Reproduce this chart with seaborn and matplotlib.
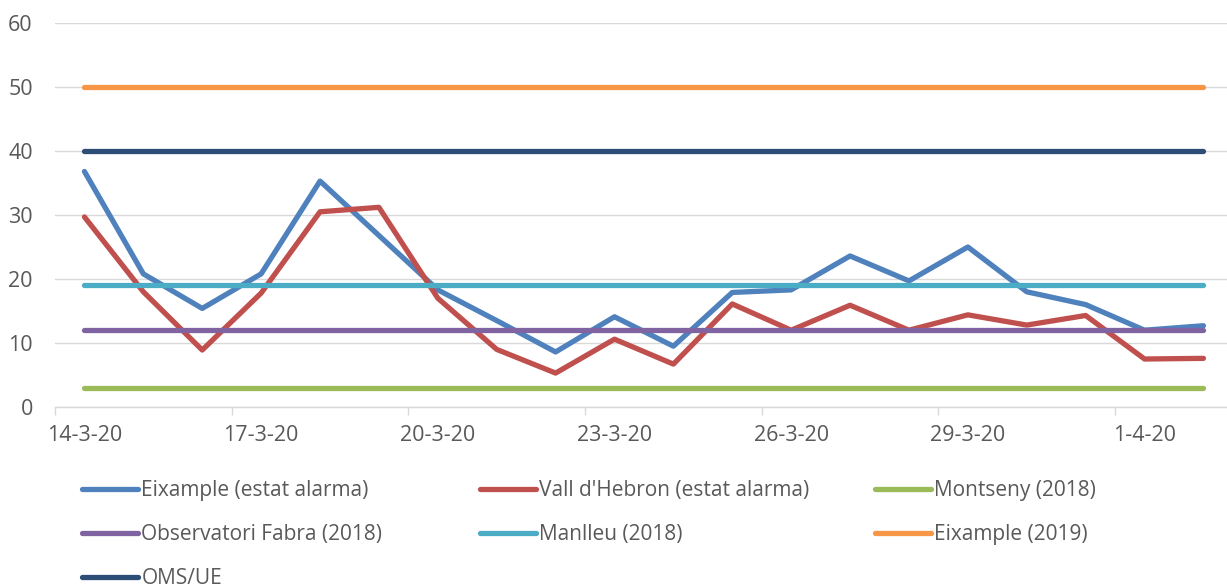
import seaborn as sns
import matplotlib.pyplot as plt
import pandas as pd

# Daily NO2 values (14-3-20 .. 2-4-20)
dates = pd.date_range("2020-03-14", "2020-04-02")
eixample_alarma = [36.8, 20.8, 15.4, 20.8, 35.3, 26.8, 18.3, 13.5, 8.6, 14.1,
                   9.5, 17.9, 18.3, 23.6, 19.7, 25.0, 18.0, 16.0, 12.0, 12.7]
vall_hebron = [29.7, 18.0, 8.9, 17.8, 30.5, 31.2, 17.0, 9.0, 5.3, 10.6,
               6.7, 16.1, 12.0, 15.9, 12.0, 14.4, 12.8, 14.3, 7.5, 7.6]
# reference levels
montseny = 3
fabra = 12
manlleu = 19
eixample_2019 = 50
oms_ue = 40

series_names = ["Eixample (estat alarma)", "Vall d'Hebron (estat alarma)",
                "Montseny (2018)", "Observatori Fabra (2018)", "Manlleu (2018)",
                "Eixample (2019)", "OMS/UE"]
colors = ["#4F81BD", "#C0504D", "#9BBB59", "#8064A2", "#4BACC6", "#F79646", "#2C4D75"]

n = len(dates)
values = [eixample_alarma, vall_hebron, [montseny] * n, [fabra] * n,
          [manlleu] * n, [eixample_2019] * n, [oms_ue] * n]
rows = []
for name, vals in zip(series_names, values):
    for i, v in enumerate(vals):
        rows.append({"idx": i, "value": v, "serie": name})
df = pd.DataFrame(rows)

sns.set_theme(style="white")
plt.rcParams['font.family'] = ['Open Sans', 'DejaVu Sans']

fig = plt.figure(figsize=(12.27, 5.87), dpi=100)
ax = fig.add_axes([55 / 1227, 1 - 407 / 587, 1 - 55 / 1227, (407 - 23) / 587])

sns.lineplot(data=df, x="idx", y="value", hue="serie", hue_order=series_names,
             palette=colors, linewidth=3.8, ax=ax, legend=True)
for line in ax.get_lines():
    line.set_solid_capstyle("round")
handles, labels = ax.get_legend_handles_labels()
ax.get_legend().remove()
for h in handles:
    h.set_solid_capstyle("round")
    h.set_linewidth(3.8)

ax.set_ylim(0, 60)
ax.set_yticks(range(0, 61, 10))
ax.set_xlim(-0.5, 19.4)
ax.set_xticks(range(0, n, 3))
ax.set_xticklabels([f"{d.day}-{d.month}-{d.strftime('%y')}" for d in dates[::3]])
ax.set_xticks([i - 0.5 for i in range(0, n, 3)], minor=True)
ax.tick_params(axis="x", which="major", length=0, pad=13, labelsize=15.5, labelcolor="#595959")
ax.tick_params(axis="x", which="minor", length=6, width=1, color="#D9D9D9", bottom=True)
ax.tick_params(axis="y", length=0, pad=16, labelsize=15.5, labelcolor="#595959")
ax.grid(axis="y", color="#D9D9D9", linewidth=1)
ax.set_axisbelow(True)
ax.set_xlabel("")
ax.set_ylabel("")
for s in ["top", "right", "left"]:
    ax.spines[s].set_visible(False)
ax.spines["bottom"].set_color("#D9D9D9")
ax.spines["bottom"].set_linewidth(1)

# Excel-style legend: three equal columns
col_x = [82 / 1227, 480 / 1227, 875 / 1227]
groups = [[0, 3, 6], [1, 4], [2, 5]]
for x0, g in zip(col_x, groups):
    leg = fig.legend([handles[i] for i in g], [labels[i] for i in g],
                     loc="upper left", bbox_to_anchor=(x0, 1 - 480 / 587),
                     frameon=False, fontsize=15, handlelength=2.7,
                     handletextpad=0.15, labelspacing=1.1, borderpad=0,
                     borderaxespad=0, labelcolor="#595959")

plt.savefig("out.png", dpi=100)
